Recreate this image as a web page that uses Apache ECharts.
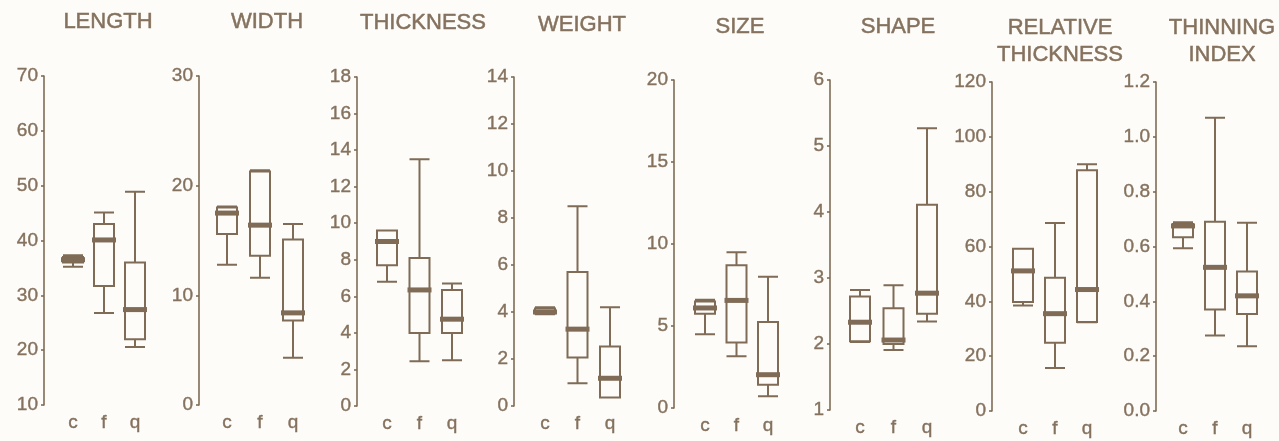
<!DOCTYPE html>
<html>
<head>
<meta charset="utf-8">
<script src="https://cdn.jsdelivr.net/npm/echarts@6/dist/echarts.min.js"></script>
<style>
  html, body { margin: 0; padding: 0; background: #fdfcf9; }
  #chart { width: 1279px; height: 441px; }
</style>
</head>
<body>
<div id="chart"></div>
<script>
// categories on every panel
var categories = ['c', 'f', 'q'];
var panelTitles = ['LENGTH', 'WIDTH', 'THICKNESS', 'WEIGHT', 'SIZE', 'SHAPE', 'RELATIVE\nTHICKNESS', 'THINNING\nINDEX'];

// box data per panel: [min, Q1, median, Q3, max] for c, f, q
var lengthBoxes    = [[35.2, 36.0, 36.5, 37.0, 37.3], [26.8, 31.7, 40.1, 43.0, 45.1], [20.6, 22.0, 27.4, 36.0, 48.9]];
var widthBoxes     = [[12.8, 15.6, 17.5, 18.0, 18.1], [11.6, 13.6, 16.4, 21.3, 21.4], [4.3, 7.7, 8.4, 15.1, 16.5]];
var thicknessBoxes = [[6.8, 7.7, 9.0, 9.6, 9.6], [2.45, 4.0, 6.35, 8.1, 13.5], [2.5, 4.0, 4.75, 6.35, 6.7]];
var weightBoxes    = [[3.9, 3.95, 4.0, 4.15, 4.2], [0.97, 2.06, 3.27, 5.7, 8.5], [0.36, 0.36, 1.18, 2.53, 4.2]];
var sizeBoxes      = [[4.5, 5.75, 6.1, 6.5, 6.6], [3.15, 4.0, 6.56, 8.7, 9.5], [0.71, 1.42, 2.03, 5.24, 8.0]];
var shapeBoxes     = [[2.03, 2.04, 2.33, 2.72, 2.82], [1.91, 2.0, 2.06, 2.54, 2.89], [2.34, 2.46, 2.77, 4.11, 5.27]];
var relThickBoxes  = [[38.5, 39.8, 51.1, 59.2, 59.2], [15.7, 24.9, 35.5, 48.6, 68.6], [32.4, 32.5, 44.3, 87.8, 90.0]];
var thinningBoxes  = [[0.594, 0.634, 0.675, 0.682, 0.688], [0.275, 0.37, 0.524, 0.69, 1.07], [0.236, 0.354, 0.42, 0.509, 0.687]];

// y axis ranges / tick steps
var yMins      = [10, 0, 0, 0, 0, 1, 0, 0];
var yMaxs      = [70, 30, 18, 14, 20, 6, 120, 1.2];
var yIntervals = [10, 10, 2, 2, 5, 1, 20, 0.2];

var allBoxes = [lengthBoxes, widthBoxes, thicknessBoxes, weightBoxes, sizeBoxes, shapeBoxes, relThickBoxes, thinningBoxes];

// layout: axis x, first/last category centre, plot top/bottom, title centre
var axisX   = [44, 199, 357, 514, 674, 830, 992, 1156];
var catC    = [73, 227, 387, 545, 705, 860, 1023, 1183];
var catQ    = [135, 293, 452, 610, 768, 927, 1087, 1247];
var plotTop = [76, 76, 77, 77, 80, 80, 82, 82];
var plotBot = [405, 405, 406, 406, 408, 410, 411, 411];
var titleX  = [108, 267, 423, 582, 740, 898, 1060, 1222];
var titleY  = [22, 22, 23, 25, 27, 27, 28, 28];

var lineColor = '#7f6b56';
var textColor = '#85725e';
var fontFam = '"Liberation Sans", Arial, sans-serif';

var option = {
    backgroundColor: '#fdfcf9',
    animation: false,
    title: [],
    grid: [],
    xAxis: [],
    yAxis: [],
    series: []
};

for (var i = 0; i < 8; i++) {
    var step = (catQ[i] - catC[i]) / 2;
    var left = catC[i] - step / 2;
    option.title.push({
        text: panelTitles[i],
        left: titleX[i],
        top: titleY[i] - 13.5,
        textAlign: 'center',
        padding: 0,
        textStyle: {
            color: textColor, fontSize: 22, fontWeight: 'normal',
            fontFamily: fontFam, lineHeight: 27,
            textBorderColor: textColor, textBorderWidth: 0.5
        }
    });
    option.grid.push({
        left: left,
        width: step * 3,
        top: plotTop[i],
        height: plotBot[i] - plotTop[i]
    });
    option.xAxis.push({
        type: 'category',
        gridIndex: i,
        data: categories,
        axisLine: { show: false },
        axisTick: { show: false },
        splitLine: { show: false },
        axisLabel: {
            color: textColor, fontSize: 19, fontFamily: fontFam, margin: 8,
            textBorderColor: textColor, textBorderWidth: 0.4
        }
    });
    option.yAxis.push({
        type: 'value',
        gridIndex: i,
        min: yMins[i],
        max: yMaxs[i],
        interval: yIntervals[i],
        offset: left - axisX[i],
        splitLine: { show: false },
        axisLine: { show: true, lineStyle: { color: lineColor, width: 1.6 } },
        axisTick: { show: true, length: 3, lineStyle: { color: lineColor, width: 1.6 } },
        axisLabel: {
            color: textColor, fontSize: 19, fontFamily: fontFam, margin: 6,
            textBorderColor: textColor, textBorderWidth: 0.4,
            formatter: i === 7 ? function (v) { return v.toFixed(1); } : null
        }
    });
    option.series.push({
        type: 'boxplot',
        xAxisIndex: i,
        yAxisIndex: i,
        boxWidth: [20, 20],
        data: allBoxes[i],
        itemStyle: { color: 'rgba(0,0,0,0)', borderColor: lineColor, borderWidth: 2 },
        emphasis: { disabled: true }
    });
    // heavy median bars
    option.series.push({
        type: 'scatter',
        xAxisIndex: i,
        yAxisIndex: i,
        symbol: 'rect',
        symbolSize: [24, 5],
        data: allBoxes[i].map(function (b, k) { return [categories[k], b[2]]; }),
        itemStyle: { color: lineColor, opacity: 1 },
        emphasis: { disabled: true },
        z: 3
    });
}

var myChart = echarts.init(document.getElementById('chart'));
myChart.setOption(option);
</script>
</body>
</html>
